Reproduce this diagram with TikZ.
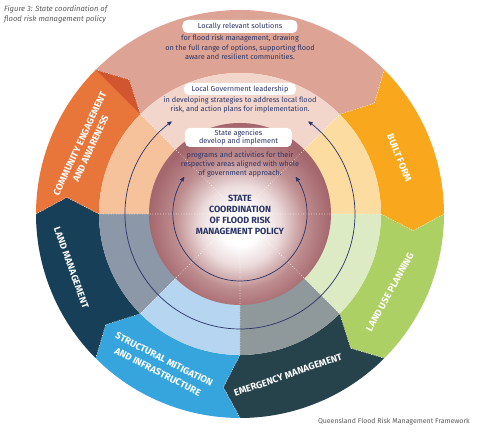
\documentclass[tikz,border=0pt]{standalone}
\usepackage{fontspec}
\setmainfont{Fira Sans}
\usetikzlibrary{arrows}
\definecolor{navytxt}{HTML}{2B3467}
\definecolor{greytxt}{HTML}{5A5A5A}
\definecolor{pinkout}{HTML}{DDA394}
\definecolor{pinkin}{HTML}{F2D6CC}
\definecolor{orangeout}{HTML}{E8753A}
\definecolor{orangetip}{HTML}{D15630}
\definecolor{orangein}{HTML}{F6C29C}
\definecolor{amberout}{HTML}{F9A81E}
\definecolor{amberin}{HTML}{FDDCA2}
\definecolor{greenout}{HTML}{ADD065}
\definecolor{greenin}{HTML}{DCEBC3}
\definecolor{tealout}{HTML}{26434B}
\definecolor{tealin}{HTML}{8F989B}
\definecolor{blueout}{HTML}{37A5DD}
\definecolor{bluein}{HTML}{B6D5F0}
\definecolor{navyout}{HTML}{173F58}
\definecolor{navyin}{HTML}{8C97A7}
\definecolor{diskpale}{HTML}{EDDCDC}
\definecolor{diskmid}{HTML}{BE8D8F}
\definecolor{diskedge}{HTML}{A4676D}
\pgfdeclareradialshading{diskshade}{\pgfpoint{0bp}{-4bp}}{color(0bp)=(white); color(5bp)=(white); color(11bp)=(diskpale); color(18bp)=(diskmid); color(25bp)=(diskedge); color(50bp)=(diskedge)}

\begin{document}
\begin{tikzpicture}[x=1pt,y=1pt,>=stealth',
      dots/.style={draw=white,dotted,line width=0.6pt},
      ring/.style={draw=navytxt,line width=0.7pt,<->},
      box/.style={fill=white,rounded corners=5pt,text=navytxt,inner sep=1pt,
        font=\fontsize{7.3}{8.7}\selectfont,align=center},
      body/.style={text=navytxt,font=\fontsize{7.3}{9}\selectfont,align=center},
      lbl/.style={text=white,font=\bfseries\fontsize{9.5}{12}\selectfont,align=center}]
      \useasboundingbox (-240,-221) rectangle (240,214);

      \fill[pinkout] (135:204pt) -- (129.5:174pt) -- (135:141pt) arc[start angle=135,end angle=45,radius=141pt]
        -- (39.5:174pt) -- (45:204pt) arc[start angle=45,end angle=135,radius=204pt] -- cycle;
      \fill[amberout] (45:204pt) -- (39.5:174pt) -- (45:141pt) arc[start angle=45,end angle=0,radius=141pt]
        -- (-5.5:174pt) -- (0:204pt) arc[start angle=0,end angle=45,radius=204pt] -- cycle;
      \fill[greenout] (360:204pt) -- (354.5:174pt) -- (360:141pt) arc[start angle=360,end angle=315,radius=141pt]
        -- (309.5:174pt) -- (315:204pt) arc[start angle=315,end angle=360,radius=204pt] -- cycle;
      \fill[tealout] (315:204pt) -- (309.5:174pt) -- (315:141pt) arc[start angle=315,end angle=270,radius=141pt]
        -- (264.5:174pt) -- (270:204pt) arc[start angle=270,end angle=315,radius=204pt] -- cycle;
      \fill[blueout] (270:204pt) -- (264.5:174pt) -- (270:141pt) arc[start angle=270,end angle=225,radius=141pt]
        -- (219.5:174pt) -- (225:204pt) arc[start angle=225,end angle=270,radius=204pt] -- cycle;
      \fill[navyout] (225:204pt) -- (219.5:174pt) -- (225:141pt) arc[start angle=225,end angle=180,radius=141pt]
        -- (174.5:174pt) -- (180:204pt) arc[start angle=180,end angle=225,radius=204pt] -- cycle;
      \fill[orangeout] (180:204pt) -- (174.5:174pt) -- (180:141pt) arc[start angle=180,end angle=135,radius=141pt]
        -- (129.5:174pt) -- (135:204pt) arc[start angle=135,end angle=180,radius=204pt] -- cycle;
      \fill[orangetip] (135:204pt) -- (129.5:174pt) -- (135:141pt) -- cycle;

      \fill[pinkin] (0,0) -- (45:141pt) arc[start angle=45,end angle=135,radius=141pt] -- cycle;
      \fill[orangein] (0,0) -- (135:141pt) arc[start angle=135,end angle=180,radius=141pt] -- cycle;
      \fill[navyin] (0,0) -- (180:141pt) arc[start angle=180,end angle=225,radius=141pt] -- cycle;
      \fill[bluein] (0,0) -- (225:141pt) arc[start angle=225,end angle=270,radius=141pt] -- cycle;
      \fill[tealin] (0,0) -- (270:141pt) arc[start angle=270,end angle=315,radius=141pt] -- cycle;
      \fill[greenin] (0,0) -- (315:141pt) arc[start angle=315,end angle=360,radius=141pt] -- cycle;
      \fill[amberin] (0,0) -- (0:141pt) arc[start angle=0,end angle=45,radius=141pt] -- cycle;
      \shade[shading=diskshade] (0,0) circle (91pt);

      \draw[dots] (135:204pt) -- (129.5:174pt) -- (135:141pt) -- (0,0);
      \draw[dots] (45:204pt) -- (39.5:174pt) -- (45:141pt) -- (0,0);
      \draw[dots] (0:204pt) -- (-5.5:174pt) -- (0:141pt) -- (0,0);
      \draw[dots] (315:204pt) -- (309.5:174pt) -- (315:141pt) -- (0,0);
      \draw[dots] (270:204pt) -- (264.5:174pt) -- (270:141pt) -- (0,0);
      \draw[dots] (225:204pt) -- (219.5:174pt) -- (225:141pt) -- (0,0);
      \draw[dots] (180:204pt) -- (174.5:174pt) -- (180:141pt) -- (0,0);

      \draw[ring] (126.5:115pt) arc[start angle=126.5,end angle=413.5,radius=115pt];
      \draw[ring] (146.5:67pt) arc[start angle=146.5,end angle=393.5,radius=67pt];

      \node[box,minimum width=115pt,minimum height=13pt] (local) at (0,187.5) {Locally relevant solutions};
      \node[body,font=\fontsize{7.3}{9.5}\selectfont] (localtxt) at (0,166.5)
        {for flood risk management, drawing\\on the full range of options, supporting flood\\aware and resilient communities.};
      \node[box,minimum width=112pt,minimum height=12pt] (lgov) at (0,125) {Local Government leadership};
      \node[body] (lgovtxt) at (0,109.5)
        {in developing strategies to address local flood\\risk, and action plans for implementation.};
      \node[box,minimum width=107pt,minimum height=19pt] (state) at (-1.5,76.5) {State agencies\\develop and implement};
      \node[body] (statetxt) at (0,50)
        {programs and activities for their\\respective areas aligned with whole\\of government approach.};
      \node[text=navytxt,font=\bfseries\fontsize{9}{11}\selectfont,align=center] (core) at (0,-0.5)
        {STATE\\COORDINATION\\OF FLOOD RISK\\MANAGEMENT POLICY};

      \node[lbl,rotate=65] (comm) at (156.3:169pt) {COMMUNITY ENGAGEMENT\\AND AWARENESS};
      \node[lbl,rotate=-68] (built) at (19.4:169pt) {BUILT FORM};
      \node[lbl,rotate=61] (landuse) at (-27.5:169pt) {LAND USE PLANNING};
      \node[lbl,rotate=19] (emerg) at (-73.4:168pt) {EMERGENCY MANAGEMENT};
      \node[lbl,rotate=-27,font=\bfseries\fontsize{9.5}{14}\selectfont] (struct) at (242.5:171pt)
        {STRUCTURAL MITIGATION\\AND INFRASTRUCTURE};
      \node[lbl,rotate=-70] (landmgmt) at (197.7:177pt) {LAND MANAGEMENT};

      \node[anchor=north west,inner sep=0,text=greytxt,align=left,font=\itshape\fontsize{7.6}{10}\selectfont]
        (title) at (-236,209) {Figure 3: State coordination of\\flood risk management policy};
      \node[anchor=east,inner sep=0,text=greytxt,font=\fontsize{7}{9}\selectfont]
        (source) at (230,-208) {Queensland Flood Risk Management Framework};
\end{tikzpicture}
\end{document}
